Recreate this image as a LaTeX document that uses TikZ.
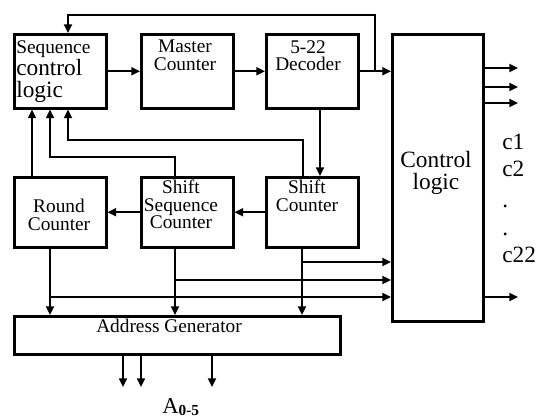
\documentclass[tikz,border=0pt]{standalone}
\usepackage{fontspec}
\setmainfont{Liberation Serif}
\usetikzlibrary{arrows.meta, positioning, calc}

\begin{document}
\begin{tikzpicture}[
  x=0.75pt, y=-0.75pt,
  block/.style={draw, line width=1.9pt, inner sep=0pt, anchor=north west},
  unit/.style={block, minimum width=69pt, minimum height=55.5pt},
  lbl/.style={font=\fontsize{14.5}{13}\selectfont, align=center, inner sep=0pt},
  big/.style={font=\fontsize{17.5}{16.5}\selectfont, inner sep=0pt},
  arr/.style={-{Triangle[length=6.5pt, width=6pt]}, line width=1.5pt},
  wire/.style={line width=1.5pt}
]
  \useasboundingbox (0,0) rectangle (539,420);

  % Top row
  \node[unit] (seq) at (13,33) {};
  \node[unit] (master) at (140,33) {};
  \node[unit] (dec) at (265,33) {};
  \node[block, minimum width=68.25pt, minimum height=215.25pt] (ctrl) at (391,33) {};

  % Middle row
  \node[unit, minimum height=52.5pt] (round) at (13,176) {};
  \node[unit, minimum height=52.5pt] (shseq) at (140,176) {};
  \node[unit, minimum height=52.5pt] (shcnt) at (265,176) {};

  % Address generator
  \node[block, minimum width=244.5pt, minimum height=28.5pt] (addr) at (13,315) {};

  % Labels
  \node[big, align=left, anchor=north west] (seqtxt) at (16,40)
    {{\fontsize{14.5}{13}\selectfont Sequence}\\control\\logic};
  \node[lbl, anchor=north] (mastertxt) at (185,40) {Master\\Counter};
  \node[lbl, anchor=north] (dectxt) at (308,40) {5-22\\Decoder};
  \node[big, align=center, anchor=north] (ctrltxt) at (436,151) {Control\\logic};
  \node[lbl, anchor=north] (roundtxt) at (59,199) {Round\\Counter};
  \node[lbl, anchor=north] (shseqtxt) at (181,180) {Shift\\Sequence\\Counter};
  \node[lbl, anchor=north] (shcnttxt) at (307,180) {Shift\\Counter};
  \node[lbl, anchor=base] (addrtxt) at (169,333) {Address Generator};

  % Output labels
  \node[big, anchor=base west] (c1) at (502,150) {c1};
  \node[big, anchor=base west] (c2) at (502,177) {c2};
  \node[big, anchor=base west] (dot1) at (502,208) {.};
  \node[big, anchor=base west] (dot2) at (502,236) {.};
  \node[big, anchor=base west] (c22) at (502,263) {c22};
  \node[inner sep=0pt, anchor=base west, font=\fontsize{17}{17}\selectfont] (aout) at (162,413)
    {A\raisebox{-1.5pt}{\fontsize{11.5}{11.5}\selectfont\bfseries 0-5}};

  % Top row flow
  \coordinate (tap) at (375,70);
  \coordinate (fb) at (68,15);
  \draw[arr] (seq) -- (master);
  \draw[arr] (master) -- (dec);
  \draw[arr] (dec) -- (ctrl.west |- dec);
  \draw[arr] (tap) |- (fb) -- (seq.north -| fb);

  % Decoder to shift counter
  \coordinate (dd) at (320,0);
  \draw[arr] (dec.south -| dd) -- (shcnt.north -| dd);

  % Middle row flow
  \draw[arr] (shcnt) -- (shseq);
  \draw[arr] (shseq) -- (round);

  % Feedback to sequence control
  \coordinate (r1) at (32,0);
  \coordinate (r2) at (50,157);
  \coordinate (s2) at (175,0);
  \coordinate (r3) at (68,140);
  \coordinate (c3) at (303,0);
  \draw[arr] (round.north -| r1) -- (seq.south -| r1);
  \draw[arr] (shseq.north -| s2) |- (r2) -- (seq.south -| r2);
  \draw[arr] (shcnt.north -| c3) |- (r3) -- (seq.south -| r3);

  % Counters to address generator and control logic
  \coordinate (d1) at (50,297);
  \coordinate (d2) at (175,280);
  \coordinate (d3) at (302,262);
  \draw[arr] (round.south -| d1) -- (addr.north -| d1);
  \draw[arr] (shseq.south -| d2) -- (addr.north -| d2);
  \draw[arr] (shcnt.south -| d3) -- (addr.north -| d3);
  \draw[arr] (d1) -- (ctrl.west |- d1);
  \draw[arr] (d2) -- (ctrl.west |- d2);
  \draw[arr] (d3) -- (ctrl.west |- d3);

  % Outputs
  \foreach \y/\n in {68/o1, 87/o2, 103/o3, 297/o4} {
    \coordinate (\n) at (518,\y);
    \draw[arr] (ctrl.east |- \n) -- (\n);
  }
  \foreach \x in {123, 141, 212} {
    \coordinate (a\x) at (\x,387);
    \draw[arr] (addr.south -| a\x) -- (a\x);
  }
\end{tikzpicture}
\end{document}
